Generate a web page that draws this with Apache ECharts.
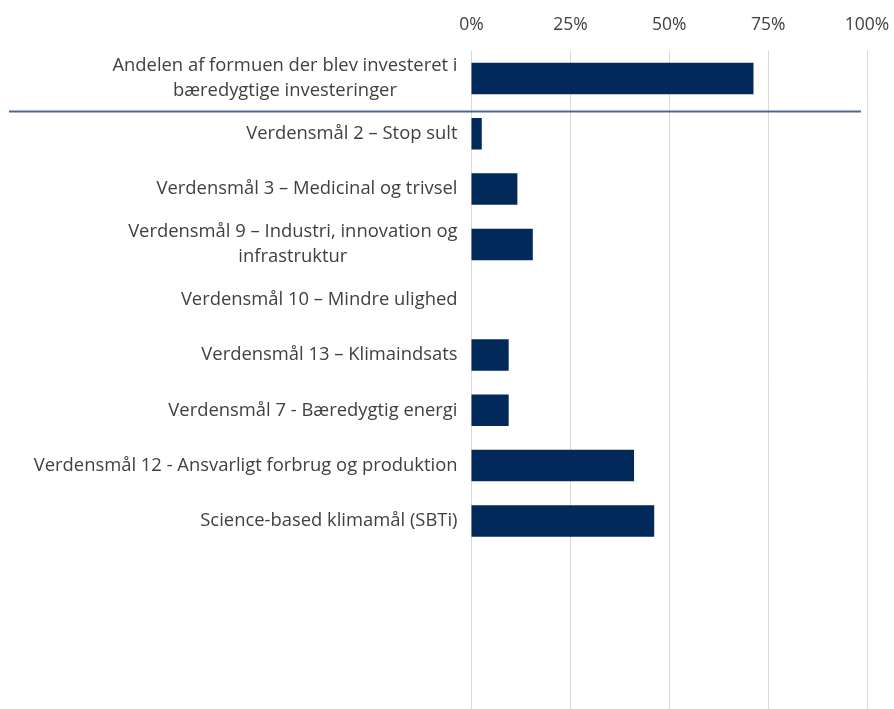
<!DOCTYPE html>
<html><head><meta charset="utf-8">
<script src="https://cdn.jsdelivr.net/npm/echarts@6/dist/echarts.min.js"></script>
<style>html,body{margin:0;padding:0;background:#fff}#c{width:894px;height:709px}</style>
</head><body><div id="c"></div>
<script>
const categories = [
  "Andelen af formuen der blev investeret i\nbæredygtige investeringer",
  "Verdensmål 2 – Stop sult",
  "Verdensmål 3 – Medicinal og trivsel",
  "Verdensmål 9 – Industri, innovation og\ninfrastruktur",
  "Verdensmål 10 – Mindre ulighed",
  "Verdensmål 13 – Klimaindsats",
  "Verdensmål 7 - Bæredygtig energi",
  "Verdensmål 12 - Ansvarligt forbrug og produktion",
  "Science-based klimamål (SBTi)",
  "", "", ""
];
const values = [0.713, 0.026, 0.116, 0.155, 0, 0.094, 0.094, 0.411, 0.462, null, null, null];
const tickLabels = ["0%", "25%", "50%", "75%", "100%"];

const FONT = "Open Sans";
const FS = 18.4;
const chart = echarts.init(document.getElementById('c'), null, {renderer: 'canvas'});
chart.setOption({
  animation: false,
  grid: {left: 471.5, width: 395.5, top: 50.8, height: 663.7, containLabel: false, outerBoundsMode: 'none'},
  xAxis: {
    type: 'value', position: 'top', min: 0, max: 1, interval: 0.25,
    axisLine: {show: false}, axisTick: {show: false},
    splitLine: {show: true, lineStyle: {color: '#d9d9d9', width: 1}},
    axisLabel: {
      margin: 17, color: '#404040', fontFamily: FONT, fontSize: 17.5,
      formatter: v => tickLabels[Math.round(v / 0.25)]
    }
  },
  yAxis: {
    type: 'category', inverse: true, data: categories,
    axisLine: {show: false}, axisTick: {show: false}, splitLine: {show: false},
    axisLabel: {
      margin: 14, color: '#404040', fontFamily: FONT, fontSize: FS, interval: 0,
      formatter: v => v ? v.split('\n').map(s => '{c|' + s + '}').join('\n') : '',
      rich: {c: {align: 'center', fontFamily: FONT, fontSize: FS, color: '#404040', lineHeight: 25}}
    }
  },
  series: [{
    type: 'bar', data: values, barWidth: 31.5,
    itemStyle: {color: '#012a5b'}
  }]
});
const y0 = chart.convertToPixel({yAxisIndex: 0}, 0);
const y1 = chart.convertToPixel({yAxisIndex: 0}, 1);
const ySep = Math.round(y0 + (y1 - y0) * 0.59) + 0.5;
chart.setOption({
  graphic: [{
    type: 'line', shape: {x1: 9, y1: ySep, x2: 861, y2: ySep},
    style: {stroke: '#4b6a8f', lineWidth: 2}, z: 10
  }]
});
</script></body></html>
